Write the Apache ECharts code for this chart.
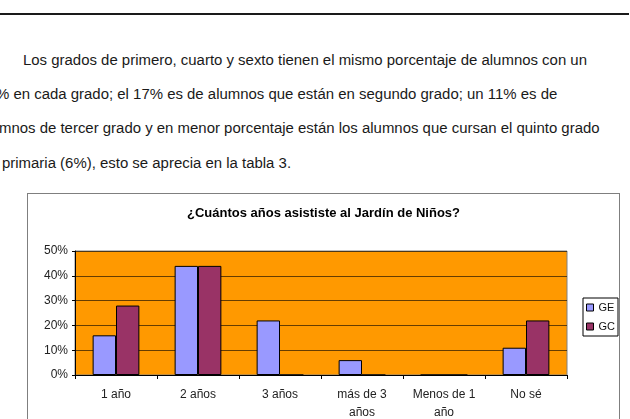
<!DOCTYPE html>
<html>
<head>
<meta charset="utf-8">
<script src="https://cdn.jsdelivr.net/npm/echarts@6/dist/echarts.min.js"></script>
<style>
  html, body { margin: 0; padding: 0; width: 630px; height: 419px; overflow: hidden; background: #fff; }
  #rule { position: absolute; left: 0; top: 13px; width: 629px; height: 2px; background: #1a1a1a; }
  .line { position: absolute; white-space: nowrap; font-family: "Liberation Sans", Arial, sans-serif;
          font-size: 14px; line-height: 16px; color: #1a1a1a; transform-origin: 0 50%; }
  #box { position: absolute; left: 27px; top: 193px; width: 591px; height: 260px;
         border: 1.5px solid #7f7f7f; background: #fff; }
  #chart { width: 591px; height: 260px; }
</style>
</head>
<body>
<div id="rule"></div>
<div class="line" id="l1" style="left:23px; top:52px;">Los grados de primero, cuarto y sexto tienen el mismo porcentaje de alumnos con un</div>
<div class="line" id="l2" style="left:-4px; top:86px;">% en cada grado; el 17% es de alumnos que están en segundo grado; un 11% es de</div>
<div class="line" id="l3" style="left:-1px; top:120px;">mnos de tercer grado y en menor porcentaje están los alumnos que cursan el quinto grado</div>
<div class="line" id="l4" style="left:2px; top:155px;">primaria (6%), esto se aprecia en la tabla 3.</div>
<div id="box"><div id="chart"></div></div>
<script>
(function() {
    "use strict";
    // ------------------------------
    // Paragraph: squeeze lines to match page width
    // ------------------------------
    var target = 564;
    var l1 = document.getElementById('l1');
    var k = target / l1.getBoundingClientRect().width;
    ['l1', 'l2', 'l3', 'l4'].forEach(function(id) {
        document.getElementById(id).style.transform = 'scaleX(' + k + ')';
    });

    // ------------------------------
    // Data
    // ------------------------------
    var categories = ['1 año', '2 años', '3 años', 'más de 3\naños', 'Menos de 1\naño', 'No sé'];
    var dataGE = [16, 44, 22, 6, 0, 11];
    var dataGC = [28, 44, 0, 0, 0, 22];
    var yTicks = [0, 10, 20, 30, 40, 50];

    var chart = echarts.init(document.getElementById('chart'));

    var option = {
        animation: false,

        // Title
        title: {
            text: '¿Cuántos años asististe al Jardín de Niños?',
            left: 'center',
            top: 8,
            textStyle: {
                fontFamily: 'Liberation Sans',
                fontSize: 13,
                fontWeight: 'bold',
                color: '#000'
            }
        },

        // Setup grid
        grid: {
            left: 47,
            top: 57,
            width: 492,
            height: 124,
            show: true,
            backgroundColor: '#FF9900',
            borderColor: '#808080',
            borderWidth: 1
        },

        // Legend
        legend: {
            data: ['GE', 'GC'],
            orient: 'vertical',
            left: 555,
            top: 104,
            padding: [4, 3, 4, 3],
            itemGap: 8,
            itemWidth: 7,
            itemHeight: 7,
            icon: 'rect',
            borderColor: '#000',
            borderWidth: 1,
            itemStyle: { borderColor: '#000', borderWidth: 1 },
            textStyle: { fontFamily: 'Liberation Sans', fontSize: 11, color: '#111' }
        },

        // Horizontal axis
        xAxis: [{
            type: 'category',
            data: categories,
            axisLine: { lineStyle: { color: '#000', width: 1 } },
            axisTick: { show: true, length: 4, lineStyle: { color: '#000' } },
            axisLabel: {
                fontFamily: 'Liberation Sans',
                fontSize: 12,
                color: '#222',
                margin: 11,
                lineHeight: 18,
                interval: 0
            }
        }],

        // Vertical axis
        yAxis: [{
            type: 'value',
            min: yTicks[0],
            max: yTicks[yTicks.length - 1],
            interval: 10,
            axisLine: { show: true, lineStyle: { color: '#000', width: 1 } },
            axisTick: { show: true, length: 3, lineStyle: { color: '#000' } },
            splitLine: { lineStyle: { color: '#000', width: 1, opacity: 0.6 } },
            axisLabel: {
                formatter: '{value}%',
                fontFamily: 'Liberation Sans',
                fontSize: 12,
                color: '#222',
                margin: 7
            }
        }],

        // Series
        series: [
            {
                name: 'GE',
                type: 'bar',
                barGap: '0%',
                barCategoryGap: '43%',
                itemStyle: { color: '#9999FF', borderColor: '#000', borderWidth: 1 },
                data: dataGE
            },
            {
                name: 'GC',
                type: 'bar',
                itemStyle: { color: '#993366', borderColor: '#000', borderWidth: 1 },
                data: dataGC
            }
        ]
    };
    chart.setOption(option);
})();
</script>
</body>
</html>
